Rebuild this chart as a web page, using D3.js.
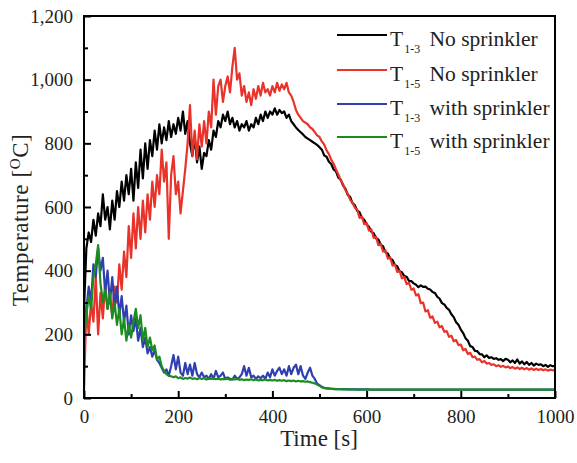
<!DOCTYPE html>
<html>
<head>
<meta charset="utf-8">
<script src="https://cdn.jsdelivr.net/npm/d3@7"></script>
<style>
  body { margin: 0; background: #fff; }
</style>
</head>
<body>
<svg id="chart" width="577" height="463"></svg>
<script>
// sample times [s], every 5 s
const times = d3.range(0, 1001, 5);

// T1-3 No sprinkler
const t13NoSpr = [
  280,470,520,490,560,510,580,540,640,560,600,530,620,560,650,600,680,620,700,640,
  720,620,740,660,780,690,800,720,810,760,840,780,860,800,850,810,870,820,860,830,
  880,840,900,830,870,800,760,820,740,790,720,770,760,810,780,840,820,870,850,890,
  870,900,860,880,850,870,840,860,850,870,840,860,850,880,860,890,870,900,880,900,
  890,910,890,905,895,900,880,890,870,860,850,842,835,828,820,815,810,805,800,795,
  788,780,762,758,742,735,718,712,692,686,668,658,638,632,612,606,588,584,566,560,
  545,538,522,518,502,498,482,476,458,454,438,434,418,414,398,395,383,381,368,367,
  360,356,348,354,349,350,343,341,333,330,318,312,298,294,283,277,263,254,238,230,
  215,204,188,180,163,160,148,147,138,137,128,134,126,128,123,125,120,122,116,123,
  120,112,118,110,121,108,115,106,113,104,110,102,108,104,106,100,104,98,103,100,
  100
];

// T1-5 No sprinkler
const t15NoSpr = [
  20,290,200,300,240,380,200,330,250,360,280,320,260,350,300,420,340,460,380,540,
  440,580,470,600,500,620,520,640,560,680,600,700,640,780,680,740,500,700,760,640,
  680,580,650,720,800,920,760,840,750,860,790,870,800,900,850,1000,890,980,1000,930,
  980,1010,960,1040,1100,1000,1020,950,980,930,960,920,970,940,980,950,990,960,970,950,
  980,960,990,965,985,970,990,960,950,930,905,890,880,870,865,860,850,845,835,825,
  820,806,796,778,766,748,736,718,702,684,672,653,642,623,614,598,592,566,570,546,
  550,526,530,503,507,480,484,460,464,438,442,416,420,396,400,376,380,358,362,340,
  344,322,326,298,300,272,276,252,256,236,240,222,226,208,210,192,196,178,182,166,
  168,150,154,138,142,128,130,120,122,112,116,108,110,104,106,100,103,98,101,96,
  99,94,97,92,96,91,95,90,94,89,93,88,92,88,91,87,90,86,89,87,
  88
];

// T1-3 with sprinkler
const t13WithSpr = [
  200,280,350,300,420,380,470,400,440,330,400,300,380,280,350,260,320,240,290,200,
  260,210,250,180,220,160,190,140,160,130,150,120,110,95,80,90,70,100,135,90,
  130,80,70,110,75,105,70,110,75,65,80,65,70,60,75,60,85,65,70,80,
  60,65,60,58,70,60,65,75,100,70,95,65,70,60,68,62,70,60,80,65,
  90,70,85,95,75,90,70,100,75,95,105,75,100,70,60,80,95,70,60,45,
  40,35,32,30,30,29,29,28,28,28,28,28,27,27,27,27,27,27,27,27,
  27,27,26,26,26,26,26,26,26,26,26,26,26,26,26,26,26,26,26,26,
  26,26,26,26,26,26,26,26,26,26,26,26,26,26,26,26,26,26,26,26,
  26,26,26,26,26,26,26,26,26,26,26,26,26,26,26,26,26,26,26,26,
  26,26,26,26,26,26,26,26,26,26,26,26,26,26,26,26,26,26,26,26,
  26
];

// T1-5 with sprinkler
const t15WithSpr = [
  180,260,320,280,380,420,480,360,300,340,280,330,250,300,230,280,200,250,180,230,
  190,240,280,220,260,180,220,160,190,150,165,120,130,100,85,75,70,68,65,68,
  62,65,60,63,61,64,60,62,59,63,60,62,58,61,60,62,59,61,58,60,
  59,61,57,60,58,60,57,59,56,58,57,59,56,58,55,57,56,58,55,57,
  55,57,54,56,54,56,53,55,53,55,52,54,52,53,51,52,50,48,46,42,
  38,34,31,30,29,29,28,28,28,28,27,27,27,27,27,27,26,26,26,26,
  26,26,26,26,26,26,26,26,26,26,26,26,26,26,26,26,26,26,26,26,
  26,26,26,26,26,26,26,26,26,26,26,26,26,26,26,26,26,26,26,26,
  26,26,26,26,26,26,26,26,26,26,26,26,26,26,26,26,26,26,26,26,
  26,26,26,26,26,26,26,26,26,26,26,26,26,26,26,26,26,26,26,26,
  26
];

const seriesNames = ["No sprinkler", "No sprinkler", "with sprinkler", "with sprinkler"];
const seriesSubs = ["1-3", "1-5", "1-3", "1-5"];
const seriesColors = ["#000000", "#e8322a", "#2f3fb2", "#1b8c1f"];
const seriesValues = [t13NoSpr, t15NoSpr, t13WithSpr, t15WithSpr];

const xTicks = [0, 200, 400, 600, 800, 1000];
const xMinor = [100, 300, 500, 700, 900];
const yTicks = [0, 200, 400, 600, 800, 1000, 1200];
const yMinor = [100, 300, 500, 700, 900, 1100];

const serif = "'Liberation Serif', 'Times New Roman', Tinos";

let svg = d3.select("#chart");
let width = parseInt(svg.attr("width"));
let height = parseInt(svg.attr("height"));

let margin = {left: 84, right: 22, top: 16, bottom: 65};

let xScale = d3.scaleLinear()
    .domain([0, 1000])
    .range([margin.left, width - margin.right]);
let yScale = d3.scaleLinear()
    .domain([0, 1200])
    .range([height - margin.bottom, margin.top]);

svg.append("rect")
    .attr("width", width).attr("height", height)
    .attr("fill", "#fff");

// lines
let line = d3.line()
    .x((d, i) => xScale(times[i]))
    .y(d => yScale(d));

svg.append("g")
    .selectAll("path")
    .data(seriesValues)
    .enter().append("path")
    .attr("d", d => line(d))
    .attr("fill", "none")
    .attr("stroke", (d, i) => seriesColors[i])
    .attr("stroke-width", 2.2)
    .attr("stroke-linejoin", "round");

// axes, ticks pointing inward
let xAxis = d3.axisBottom(xScale)
    .tickValues(xTicks)
    .tickSizeInner(-7).tickSizeOuter(0)
    .tickPadding(12)
    .tickFormat(d3.format("d"));
let xAxisMinor = d3.axisBottom(xScale)
    .tickValues(xMinor)
    .tickSizeInner(-4).tickSizeOuter(0)
    .tickFormat("");
let yAxis = d3.axisLeft(yScale)
    .tickValues(yTicks)
    .tickSizeInner(-7).tickSizeOuter(0)
    .tickPadding(11)
    .tickFormat(d3.format(","));
let yAxisMinor = d3.axisLeft(yScale)
    .tickValues(yMinor)
    .tickSizeInner(-4).tickSizeOuter(0)
    .tickFormat("");

function styleAxis(g) {
    g.select(".domain").remove();
    g.selectAll("line").attr("stroke", "#000").attr("stroke-width", 2);
    g.selectAll("text")
        .style("font-family", serif)
        .style("font-size", "19px")
        .attr("fill", "#222");
}

svg.append("g")
    .attr("transform", "translate(0," + yScale(0) + ")")
    .call(xAxis).call(styleAxis);
svg.append("g")
    .attr("transform", "translate(0," + yScale(0) + ")")
    .call(xAxisMinor).call(styleAxis);
svg.append("g")
    .attr("transform", "translate(" + xScale(0) + ",0)")
    .call(yAxis).call(styleAxis);
svg.append("g")
    .attr("transform", "translate(" + xScale(0) + ",0)")
    .call(yAxisMinor).call(styleAxis);

// frame
svg.append("rect")
    .attr("x", xScale(0)).attr("y", yScale(1200))
    .attr("width", xScale(1000) - xScale(0))
    .attr("height", yScale(0) - yScale(1200))
    .attr("fill", "none")
    .attr("stroke", "#000")
    .attr("stroke-width", 2);

// axis titles
svg.append("text")
    .attr("x", 319).attr("y", 446)
    .attr("text-anchor", "middle")
    .style("font-family", serif)
    .style("font-size", "23px")
    .attr("fill", "#222")
    .text("Time [s]");

let yTitle = svg.append("text")
    .attr("transform", "translate(28,220) rotate(-90)")
    .attr("text-anchor", "middle")
    .style("font-family", serif)
    .style("font-size", "23px")
    .style("letter-spacing", "0.6px")
    .attr("fill", "#222");
yTitle.append("tspan").text("Temperature [");
yTitle.append("tspan").attr("dy", -8).style("font-size", "15px").text("O");
yTitle.append("tspan").attr("dy", 8).text("C]");

// legend
let legend = svg.append("g");
let rowY = [35, 70, 104, 137];
seriesNames.forEach(function (name, i) {
    let g = legend.append("g").attr("transform", "translate(0," + rowY[i] + ")");
    g.append("line")
        .attr("x1", 337).attr("x2", 387)
        .attr("stroke", seriesColors[i])
        .attr("stroke-width", 2.2);
    let t = g.append("text")
        .attr("x", 390).attr("y", 11)
        .style("font-family", serif)
        .style("font-size", "21.5px")
        .attr("fill", "#222");
    t.append("tspan").text("T");
    t.append("tspan").attr("dx", 1).attr("dy", 7).style("font-size", "12px").text(seriesSubs[i]);
    t.append("tspan").attr("dx", 4).attr("dy", -7).text(" " + name);
});
</script>
</body>
</html>
